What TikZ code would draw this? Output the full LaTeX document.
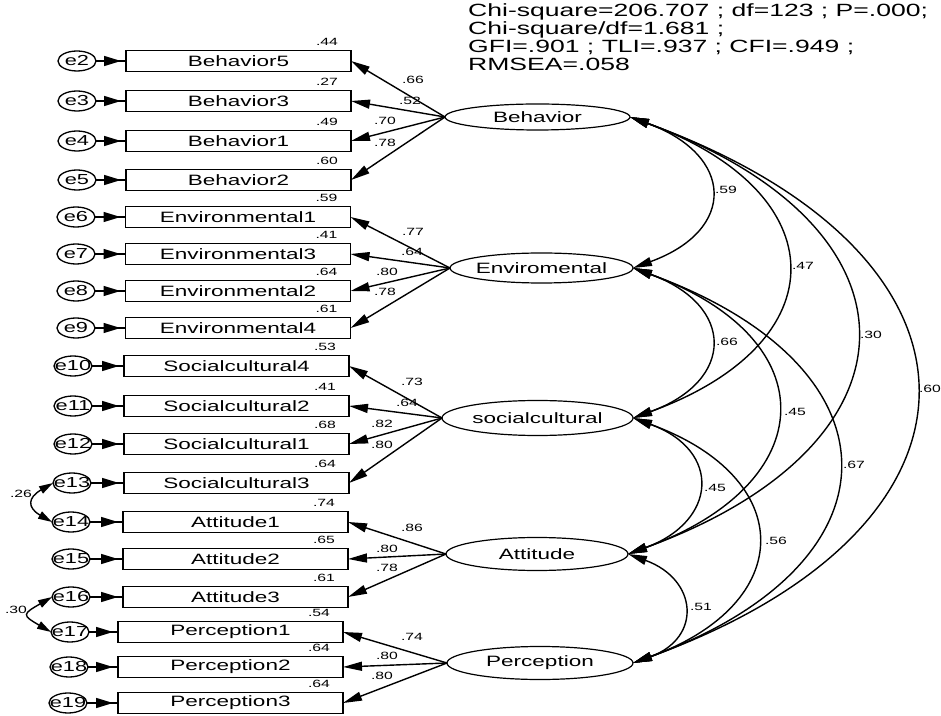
\documentclass[tikz,border=0pt]{standalone}
\usepackage{fontspec}
\setmainfont{Liberation Sans}[FakeStretch=1.5]
\usetikzlibrary{arrows.meta,shapes.geometric,decorations.markings}

\tikzset{
  obs/.style={draw, line width=1.3pt, rectangle, minimum width=225pt, minimum height=21pt,
    inner sep=0pt, outer sep=0pt, font=\fontsize{15}{18}\selectfont},
  lat/.style={draw, line width=1.2pt, ellipse, inner sep=0pt, outer sep=0pt,
    font=\fontsize{15}{18}\selectfont},
  err/.style={draw, line width=1.3pt, ellipse, minimum width=38pt, minimum height=20pt,
    inner sep=0pt, outer sep=0pt, font=\fontsize{14.5}{16}\selectfont},
  num/.style={font=\fontsize{10.5}{12}\selectfont, inner sep=0pt},
  load/.style={line width=1.4pt, -{Triangle[length=19pt,width=9pt]}},
  cov/.style={line width=1.4pt, {Triangle[length=19pt,width=9pt]}-{Triangle[length=19pt,width=9pt]}},
  ecov/.style={line width=1.4pt, {Triangle[length=14pt,width=8pt]}-{Triangle[length=14pt,width=8pt]}},
  errpath/.style={line width=1.4pt, postaction={decorate},
    decoration={markings, mark=at position -5pt with {\arrow{Triangle[length=17pt,width=10pt]}}}},
}

\begin{document}
\begin{tikzpicture}[x=1pt,y=1pt]
\useasboundingbox[fill=white] (0,0) rectangle (941,715);

% header
\node[anchor=north west, inner sep=0pt, align=left, font=\fontsize{17.7}{18}\selectfont] (fit) at (468,711.5)
  {Chi-square=206.707 ; df=123 ; P=.000;\\Chi-square/df=1.681 ;\\GFI=.901 ; TLI=.937 ; CFI=.949 ;\\RMSEA=.058};

% latent variables
\node[lat, minimum width=185pt, minimum height=26pt] (B) at (537.5,598) {\makebox[0pt]{Behavior}};
\node[lat, minimum width=183pt, minimum height=30pt] (E) at (541.5,447) {\makebox[0pt]{Enviromental}};
\node[lat, minimum width=191pt, minimum height=35pt] (S) at (537.5,297) {\makebox[0pt]{socialcultural}};
\node[lat, minimum width=182pt, minimum height=33pt] (A) at (537,161) {\makebox[0pt]{Attitude}};
\node[lat, minimum width=186pt, minimum height=33pt] (P) at (540,52) {\makebox[0pt]{Perception}};

% observed variables
\node[obs] (b5) at (238.5,654) {Behavior5};
\node[obs] (b3) at (238.5,614) {Behavior3};
\node[obs] (b1) at (238.5,574) {Behavior1};
\node[obs] (b2) at (238.5,535) {Behavior2};
\node[obs] (v1) at (238,498) {Environmental1};
\node[obs] (v3) at (238,461) {Environmental3};
\node[obs] (v2) at (238,424) {Environmental2};
\node[obs] (v4) at (238,387) {Environmental4};
\node[obs] (s4) at (236.5,349) {Socialcultural4};
\node[obs] (s2) at (236.5,309) {Socialcultural2};
\node[obs] (s1) at (236.5,271) {Socialcultural1};
\node[obs] (s3) at (236.5,232) {Socialcultural3};
\node[obs] (a1) at (235.5,193) {Attitude1};
\node[obs] (a2) at (235.5,156) {Attitude2};
\node[obs] (a3) at (235.5,118) {Attitude3};
\node[obs] (p1) at (230.5,83) {Perception1};
\node[obs] (p2) at (230.5,48) {Perception2};
\node[obs] (p3) at (230.5,12) {Perception3};

% error terms
\node[err] (e2) at (77,654) {\makebox[0pt]{e2}};
\node[err] (e3) at (77,614) {\makebox[0pt]{e3}};
\node[err] (e4) at (77,574) {\makebox[0pt]{e4}};
\node[err] (e5) at (77,535) {\makebox[0pt]{e5}};
\node[err] (e6) at (76,498) {\makebox[0pt]{e6}};
\node[err] (e7) at (76,461) {\makebox[0pt]{e7}};
\node[err] (e8) at (76,424) {\makebox[0pt]{e8}};
\node[err] (e9) at (76,387) {\makebox[0pt]{e9}};
\node[err] (e10) at (73,349) {\makebox[0pt]{e10}};
\node[err] (e11) at (73,309) {\makebox[0pt]{e11}};
\node[err] (e12) at (73,271) {\makebox[0pt]{e12}};
\node[err] (e13) at (72,232) {\makebox[0pt]{e13}};
\node[err] (e14) at (71,193) {\makebox[0pt]{e14}};
\node[err] (e15) at (71,156) {\makebox[0pt]{e15}};
\node[err] (e16) at (71,118) {\makebox[0pt]{e16}};
\node[err] (e17) at (70,83) {\makebox[0pt]{e17}};
\node[err] (e18) at (69,48) {\makebox[0pt]{e18}};
\node[err] (e19) at (68,12) {\makebox[0pt]{e19}};

% error arrows
\foreach \e/\o in {e2/b5,e3/b3,e4/b1,e5/b2,e6/v1,e7/v3,e8/v2,e9/v4,e10/s4,e11/s2,e12/s1,e13/s3,e14/a1,e15/a2,e16/a3,e17/p1,e18/p2,e19/p3}
  \draw[errpath] (\e) -- (\o);

% loadings
\foreach \o in {b5,b3,b1,b2} \draw[load] (B.west) -- (\o.east);
\foreach \o in {v1,v3,v2,v4} \draw[load] (E.west) -- (\o.east);
\foreach \o in {s4,s2,s1,s3} \draw[load] (S.west) -- (\o.east);
\foreach \o in {a1,a2,a3} \draw[load] (A.west) -- (\o.east);
\foreach \o in {p1,p2,p3} \draw[load] (P.west) -- (\o.east);

% R-squared
\node[num] (r1) at (327,673) {.44};
\node[num] (r2) at (327,633) {.27};
\node[num] (r3) at (327,593) {.49};
\node[num] (r4) at (327,554) {.60};
\node[num] (r5) at (326.5,517) {.59};
\node[num] (r6) at (326.5,480) {.41};
\node[num] (r7) at (326.5,443) {.64};
\node[num] (r8) at (326.5,406) {.61};
\node[num] (r9) at (325,368) {.53};
\node[num] (r10) at (325,328) {.41};
\node[num] (r11) at (325,290) {.68};
\node[num] (r12) at (325,251) {.64};
\node[num] (r13) at (324,212) {.74};
\node[num] (r14) at (324,175) {.65};
\node[num] (r15) at (324,137) {.61};
\node[num] (r16) at (319,102) {.54};
\node[num] (r17) at (319,67) {.64};
\node[num] (r18) at (319,31) {.64};

% loading labels
\node[num] (l1) at (413,635) {.66};
\node[num] (l2) at (410,614) {.52};
\node[num] (l3) at (385,594) {.70};
\node[num] (l4) at (385,572) {.78};
\node[num] (l5) at (413,483) {.77};
\node[num] (l6) at (412,463) {.64};
\node[num] (l7) at (387,443) {.80};
\node[num] (l8) at (385,423) {.78};
\node[num] (l9) at (412,333) {.73};
\node[num] (l10) at (407,312) {.64};
\node[num] (l11) at (382,291) {.82};
\node[num] (l12) at (382,270) {.80};
\node[num] (l13) at (412,187) {.86};
\node[num] (l14) at (387,166) {.80};
\node[num] (l15) at (387,147) {.78};
\node[num] (l16) at (412,78) {.74};
\node[num] (l17) at (387,59) {.80};
\node[num] (l18) at (382,39) {.80};

% covariances among latents
\draw[cov] (B.east) to[out=-20,in=20,distance=111pt] (E.east);
\draw[cov] (B.east) to[out=-20,in=20,distance=220pt] (S.east);
\draw[cov] (B.east) to[out=-20,in=20,distance=321pt] (A.east);
\draw[cov] (B.east) to[out=-20,in=20,distance=402pt] (P.east);
\draw[cov] (E.east) to[out=-20,in=20,distance=109pt] (S.east);
\draw[cov] (E.east) to[out=-20,in=20,distance=207pt] (A.east);
\draw[cov] (E.east) to[out=-20,in=20,distance=290pt] (P.east);
\draw[cov] (S.east) to[out=-20,in=20,distance=95pt] (A.east);
\draw[cov] (S.east) to[out=-20,in=20,distance=175pt] (P.east);
\draw[cov] (A.east) to[out=-20,in=20,distance=74pt] (P.east);

\node[num] (c1) at (726,525) {.59};
\node[num] (c2) at (803,449) {.47};
\node[num] (c3) at (871,380) {.30};
\node[num] (c4) at (930,326) {.60};
\node[num] (c5) at (727,373) {.66};
\node[num] (c6) at (795,303) {.45};
\node[num] (c7) at (854,250) {.67};
\node[num] (c8) at (715,227) {.45};
\node[num] (c9) at (776,174) {.56};
\node[num] (c10) at (701,108) {.51};

% error covariances
\draw[ecov] (e13.west) to[out=210,in=150,distance=29pt] (e14.west);
\draw[ecov] (e16.west) to[out=210,in=150,distance=34pt] (e17.west);
\node[num] (c11) at (21,221) {.26};
\node[num] (c12) at (16,105) {.30};
\end{tikzpicture}
\end{document}
